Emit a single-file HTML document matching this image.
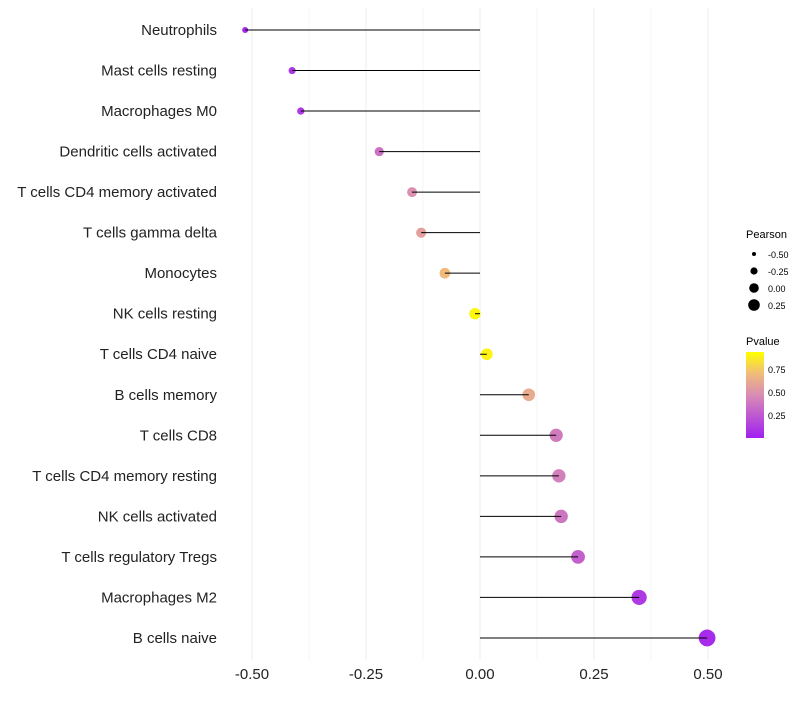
<!DOCTYPE html>
<html><head><meta charset="utf-8"><style>
body{margin:0;background:#fff;font-family:"Liberation Sans",sans-serif}
</style></head><body>
<svg id="c" width="800" height="700" xmlns="http://www.w3.org/2000/svg">
<defs><linearGradient id="pg" x1="0" y1="1" x2="0" y2="0">
<stop offset="0" stop-color="#a020f0"/><stop offset="0.5" stop-color="#d88cb4"/><stop offset="0.75" stop-color="#f0bc7a"/><stop offset="1" stop-color="#ffff00"/>
</linearGradient></defs>
<g id="grid"></g><g id="marks"></g><g id="stems"></g><g id="labels"></g>
<g font-size="10" fill="#000">
<text x="746" y="238" font-size="11">Pearson</text>
<circle cx="754" cy="254" r="2"/><text x="768" y="258" font-size="9">-0.50</text>
<circle cx="754" cy="271" r="3.6"/><text x="768" y="275" font-size="9">-0.25</text>
<circle cx="754" cy="288" r="4.8"/><text x="768" y="292" font-size="9">0.00</text>
<circle cx="754" cy="305" r="5.8"/><text x="768" y="309" font-size="9">0.25</text>
<text x="746" y="345" font-size="11">Pvalue</text>
<rect x="746" y="352" width="18" height="86" fill="url(#pg)"/>
<text x="768" y="373" font-size="9">0.75</text><text x="768" y="396" font-size="9">0.50</text><text x="768" y="419" font-size="9">0.25</text>
</g>
</svg>
<script>
const categories=["Neutrophils","Mast cells resting","Macrophages M0","Dendritic cells activated","T cells CD4 memory activated","T cells gamma delta","Monocytes","NK cells resting","T cells CD4 naive","B cells memory","T cells CD8","T cells CD4 memory resting","NK cells activated","T cells regulatory  Tregs ","Macrophages M2","B cells naive"];
const pearson=[-0.515,-0.412,-0.393,-0.221,-0.149,-0.129,-0.077,-0.011,0.015,0.107,0.167,0.173,0.178,0.215,0.349,0.498];
const pvalue=[0.05,0.1,0.12,0.38,0.52,0.6,0.74,0.97,0.96,0.66,0.42,0.45,0.4,0.3,0.12,0.05];
const xTicks=[-0.5,-0.25,0,0.25,0.5];
const xTickLabels=["-0.50","-0.25","0.00","0.25","0.50"];
const NS="http://www.w3.org/2000/svg";
const x=v=>480+v*456;
const y=i=>30+i*40.53;
const rad=v=>Math.max(1.5,4.8+v*4.4);
const stops=[[0,[160,32,240]],[0.5,[216,140,180]],[0.75,[240,188,122]],[1,[255,255,0]]];
function col(p){for(let k=1;k<stops.length;k++){if(p<=stops[k][0]){const a=stops[k-1],b=stops[k],t=(p-a[0])/(b[0]-a[0]);return `rgb(${a[1].map((c,j)=>Math.round(c+(b[1][j]-c)*t))})`;}}return 'rgb(255,255,0)';}
function mk(t,a,parent){const e=document.createElementNS(NS,t);for(const k in a)e.setAttribute(k,a[k]);parent.appendChild(e);return e;}
const g=document.getElementById('grid'),m=document.getElementById('marks'),st=document.getElementById('stems'),l=document.getElementById('labels');
for(let v=-0.5;v<=0.501;v+=0.125){const ln=mk('line',{x1:x(v),x2:x(v),y1:8,y2:660,stroke:'#ededed','stroke-width':Math.abs((v*4)%1)<1e-6?1:0.6},g);

}
xTicks.forEach((v,i)=>{const t=mk('text',{x:x(v),y:679,'text-anchor':'middle','font-size':15,fill:'#222'},l);t.textContent=xTickLabels[i];

});
categories.forEach((c,i)=>{
const t=mk('text',{x:217,y:y(i)+5,'text-anchor':'end','font-size':15,fill:'#222'},l);t.textContent=c;


const ci=mk('circle',{cx:x(pearson[i]),cy:y(i),r:rad(pearson[i])*1.2,fill:col(pvalue[i])},m);


const ln=mk('line',{x1:x(0),x2:x(pearson[i]),y1:y(i),y2:y(i),stroke:'#000','stroke-width':1},st);


});
</script>
</body></html>
